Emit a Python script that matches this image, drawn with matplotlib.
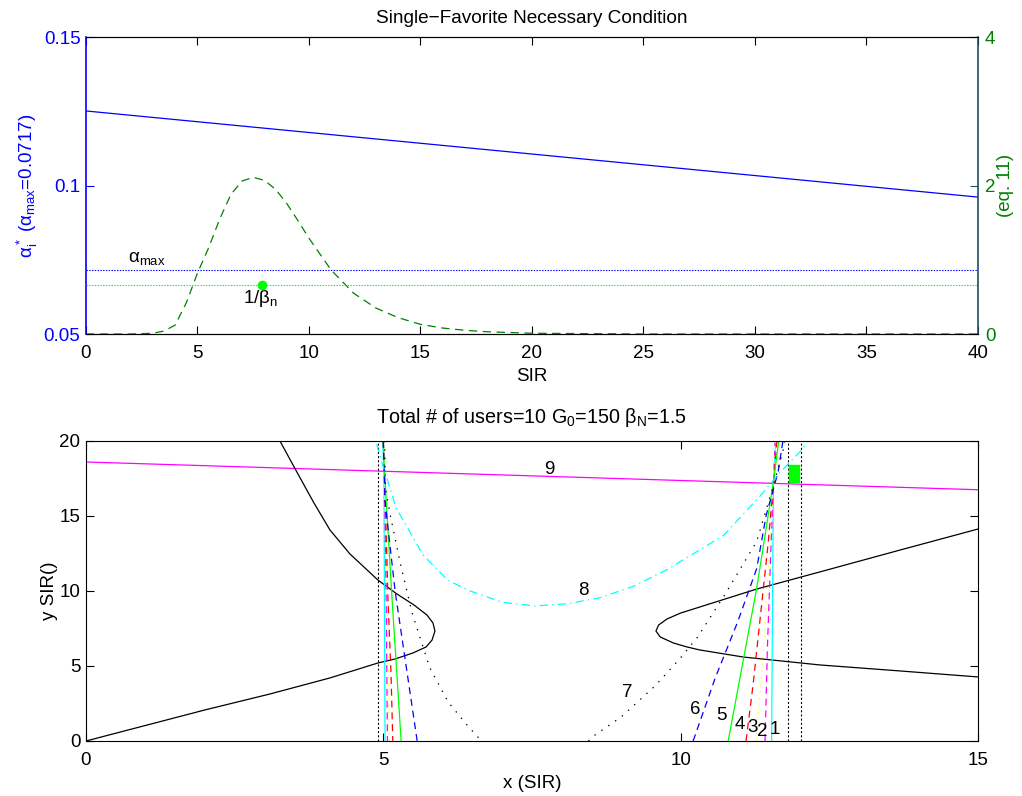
import matplotlib
matplotlib.use('Agg')
import matplotlib.pyplot as plt
import numpy as np

plt.rcParams['font.family'] = ['Liberation Sans', 'DejaVu Sans']
plt.rcParams['mathtext.fontset'] = 'custom'
plt.rcParams['mathtext.rm'] = 'Liberation Sans'
plt.rcParams['mathtext.it'] = 'Liberation Sans'
plt.rcParams['mathtext.default'] = 'regular'
plt.rcParams['font.size'] = 13.5
plt.rcParams['lines.scale_dashes'] = False

# ---- top panel data ----
sir_line = [0, 40]
alpha_star = [0.1251, 0.0961]
alpha_max = 0.0717
sir = [0, 1, 2, 3, 3.5, 4, 4.5, 5, 5.5, 6, 6.5, 7, 7.5, 8, 8.5, 9, 9.5, 10,
       11, 12, 13, 14, 15, 16, 17, 18, 20, 25, 30, 35, 40]
eq11 = [0, 0, 0, 0.01, 0.04, 0.12, 0.42, 0.82, 1.16, 1.55, 1.88, 2.06, 2.11,
        2.07, 1.95, 1.76, 1.53, 1.29, 0.86, 0.55, 0.35, 0.22, 0.13, 0.08,
        0.05, 0.03, 0.01, 0, 0, 0, 0]
inv_beta = 1 / 1.5
beta_pt_x = 7.89

# ---- bottom panel data ----
line9_x = [0, 15]
line9_y = [18.6, 16.75]

hyp_left_x = [0, 2.0, 3.09, 4.10, 4.91, 5.20, 5.50, 5.72, 5.82, 5.869,
              5.835, 5.734, 5.515, 5.229, 4.91, 4.439, 4.103, 3.834, 3.565, 3.262]
hyp_left_y = [0, 2.07, 3.13, 4.20, 5.20, 5.47, 5.87, 6.27, 6.73, 7.33,
              7.87, 8.40, 9.07, 9.80, 10.73, 12.47, 14.07, 15.87, 17.8, 20.0]
hyp_right_x = [15.0, 13.69, 12.34, 11.05, 10.32, 10.106, 9.881, 9.659, 9.585,
               9.630, 9.769, 10.00, 10.32, 11.28, 12.34, 13.69, 15.0]
hyp_right_y = [4.27, 4.67, 5.07, 5.60, 6.07, 6.27, 6.53, 6.93, 7.33,
               7.73, 8.13, 8.53, 8.93, 10.13, 11.27, 12.73, 14.13]

vlines_x = [4.91, 11.81, 12.02]
square_x = [11.9, 11.9]
square_y = [18.05, 17.6]

# U-shaped curves 1..7 : (left branch x, y), (right branch x, y)
c1 = ([4.99, 5.01, 5.03], [20, 18, 0], [11.53, 11.56, 11.60], [0, 17, 20])
c2 = ([5.0, 5.02, 5.05, 5.07], [20, 18, 9, 0], [11.42, 11.46, 11.52, 11.57, 11.59], [0, 6.3, 13, 18, 20])
c3 = ([5.0, 5.02, 5.07, 5.10], [20, 18, 9, 0], [11.27, 11.39, 11.50, 11.57, 11.60], [0, 5.9, 13, 18, 20])
c4 = ([5.0, 5.02, 5.08, 5.13, 5.16], [20, 18, 9.3, 4.5, 0], [11.10, 11.22, 11.47, 11.58, 11.62], [0, 3.8, 13.1, 18, 20])
c5 = ([5.0, 5.02, 5.14, 5.30], [20, 18, 9.95, 0], [10.80, 11.28, 11.55, 11.65], [0, 10.2, 17.0, 20])
c6 = ([5.0, 5.03, 5.20, 5.39, 5.57], [20, 15.95, 9.95, 4.84, 0],
      [10.21, 10.58, 10.96, 11.28, 11.44, 11.64, 11.72], [0, 4.18, 7.95, 11.5, 15.07, 17.95, 20])
c7 = ([5.02, 5.04, 5.12, 5.28, 5.48, 5.78, 6.09, 6.40, 6.65],
      [20, 16.8, 15.0, 11.95, 8.6, 4.9, 2.6, 1.1, 0],
      [8.45, 8.52, 9.0, 9.57, 9.99, 10.29, 10.75, 11.28, 11.55, 11.72, 11.75],
      [0, 0.29, 1.6, 3.67, 5.5, 6.95, 9.8, 13.3, 16.9, 19.3, 20])
c8_x = [4.89, 4.92, 5.22, 5.67, 6.09, 6.46, 7.0, 7.55, 8.1, 8.64, 9.2, 9.76, 10.72, 11.33, 11.67, 12.06, 12.12]
c8_y = [19.8, 19.3, 15.5, 12.4, 10.7, 10.0, 9.25, 9.0, 9.15, 9.55, 10.3, 11.4, 13.7, 16.3, 17.9, 19.5, 20]

num_labels = ['1', '2', '3', '4', '5', '6', '7', '8', '9']
num_x = [11.59, 11.38, 11.21, 11.0, 10.68, 10.25, 9.1, 8.37, 7.79]
num_y = [0.77, 0.6, 0.9, 1.13, 1.7, 2.1, 3.23, 10.0, 18.13]

dkgreen = (0, 0.5, 0)
teal = '#1f4f66'
cyan = (0, 1, 1)
magenta = (1, 0, 1)
yellow = (1, 1, 0)
green = (0, 1, 0)

fig = plt.figure(figsize=(10.22, 7.96), dpi=100)

# ================= top panel =================
ax1 = fig.add_axes([0.0841, 0.5804, 0.8728, 0.3731])
ax2 = ax1.twinx()

ax1.plot(sir_line, alpha_star, color='b', lw=0.9)
ax1.axhline(alpha_max, color='b', ls=(0, (1, 1)), lw=0.8)
ax1.text(1.88, 0.0742, r'$\alpha_{max}$', ha='left', va='baseline')
ax1.text(7.04, 0.0604, r'1/$\beta_n$', ha='left', va='baseline')
ax1.set_xlim(0, 40)
ax1.set_ylim(0.05, 0.15)
ax1.set_xticks(np.arange(0, 41, 5))
ax1.set_yticks([0.05, 0.1, 0.15])
ax1.set_yticklabels(['0.05', '0.1', '0.15'])
ax1.set_xlabel('SIR', labelpad=4)
ax1.set_ylabel(r'$\alpha_i^*$ ($\alpha_{max}$=0.0717)', color='b')
ax1.yaxis.label.set_va('center')
ax1.yaxis.set_label_coords(-0.0661, 0.5)
ax1.set_title('Single\u2212Favorite Necessary Condition', pad=10, fontsize=13.7)
ax1.tick_params(axis='x', direction='in', top=True, length=6, pad=8)
ax1.tick_params(axis='y', direction='in', colors='b', length=6, pad=4)
ax1.spines['left'].set_color('b')
ax1.spines['left'].set_linewidth(1.2)
ax1.spines['right'].set_visible(False)

ax2.plot(sir, eq11, color=dkgreen, ls=(0, (6, 4)), lw=0.9)
ax2.axhline(inv_beta, color=green, ls=(0, (1, 1)), lw=0.8)
ax2.plot([beta_pt_x], [inv_beta], 'o', color=green, ms=6)
ax2.set_ylim(0, 4)
ax2.set_yticks([0, 2, 4])
ax2.set_ylabel('(eq. 11)', color=dkgreen, rotation=90)
ax2.yaxis.label.set_va('center')
ax2.yaxis.set_label_coords(1.031, 0.5)
ax2.tick_params(axis='y', direction='in', color=teal, labelcolor=dkgreen, length=6, pad=5)
ax2.spines['right'].set_color(teal)
ax2.spines['right'].set_linewidth(1.2)
ax2.spines['left'].set_visible(False)

# ================= bottom panel =================
ax3 = fig.add_axes([0.0841, 0.0691, 0.8728, 0.3769])

ax3.plot(line9_x, line9_y, color=magenta, lw=0.9)
ax3.plot(hyp_left_x, hyp_left_y, color='k', lw=0.9)
ax3.plot(hyp_right_x, hyp_right_y, color='k', lw=0.9)
for vx in vlines_x:
    ax3.plot([vx, vx], [0, 20], color='k', ls=(0, (1.5, 1.5)), lw=0.8)
ax3.plot(square_x, square_y, 's', color=green, ms=7.5)


def ucurve(c):
    return c[0] + [np.nan] + c[2], c[1] + [np.nan] + c[3]


styles = [
    (c1, dict(color=cyan, ls='-')),
    (c2, dict(color=magenta, ls=(0, (5, 3.5)))),
    (c3, dict(color=yellow, ls=(0, (1, 4)))),
    (c4, dict(color='r', ls=(0, (5, 3.5)))),
    (c5, dict(color=green, ls='-')),
    (c6, dict(color='b', ls=(0, (5, 3.5)))),
    (c7, dict(color='k', ls=(0, (1, 5)))),
]
for c, st in styles:
    xs, ys = ucurve(c)
    ax3.plot(xs, ys, lw=0.9, **st)
ax3.plot(c8_x, c8_y, color=cyan, ls=(0, (6, 3, 1, 3)), lw=0.9)

for lab, tx, ty in zip(num_labels, num_x, num_y):
    ax3.text(tx, ty, lab, ha='center', va='center')

ax3.set_xlim(0, 15)
ax3.set_ylim(0, 20)
ax3.set_xticks([0, 5, 10, 15])
ax3.set_yticks([0, 5, 10, 15, 20])
ax3.tick_params(direction='in', top=True, right=True, length=6)
ax3.tick_params(axis='x', pad=8)
ax3.tick_params(axis='y', pad=4)
ax3.set_xlabel('x (SIR)', labelpad=4)
ax3.set_ylabel('y SIR()')
ax3.yaxis.label.set_va('center')
ax3.yaxis.set_label_coords(-0.0404, 0.5)
ax3.set_title(r'Total # of users=10 G$_0$=150 $\beta_N$=1.5', pad=13, fontsize=14.2)

fig.savefig('out.png', dpi=100)
